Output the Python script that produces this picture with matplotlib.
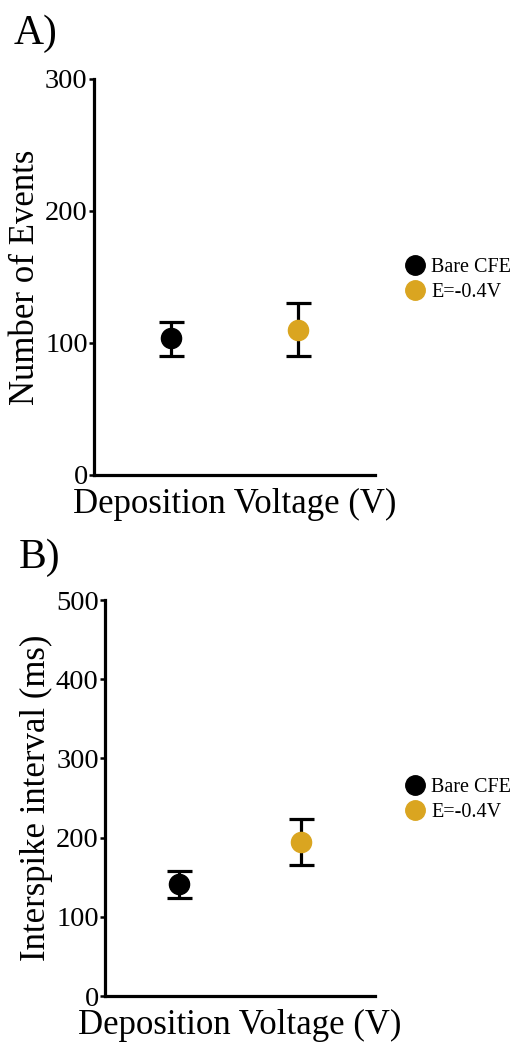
import matplotlib
matplotlib.use("Agg")
import matplotlib.pyplot as plt
from matplotlib.lines import Line2D

plt.rcParams['font.family'] = ['Liberation Serif', 'DejaVu Serif']

# Data
groups = ["Bare CFE", "E=-0.4V"]
colors = ["#000000", "#DAA520"]
events_mean = [104, 110]
events_lo = [90, 90]
events_hi = [116, 130]
isi_mean = [141, 194]
isi_lo = [124, 165]
isi_hi = [158, 224]

fig = plt.figure(figsize=(5.14, 10.45), dpi=100)
W, H = 514, 1045

def make_ax(left, right, top, bottom):
    return fig.add_axes([left / W, 1 - bottom / H, (right - left) / W, (bottom - top) / H])

axA = make_ax(94, 375, 79, 475)
axB = make_ax(105, 375, 600, 996)

def draw(ax, means, lo, hi, ylim, ticks, ylabel):
    for i, (m, l, h, c) in enumerate(zip(means, lo, hi, colors)):
        x = i + 1
        ax.errorbar([x], [m], yerr=[[m - l], [h - m]], fmt='none', ecolor='black',
                    elinewidth=2.3, capsize=9, capthick=2.3, zorder=2)
        ax.plot([x], [m], 'o', color=c, markersize=14.5, zorder=3)
    ax.set_xlim(0.4, 2.6)
    ax.set_ylim(*ylim)
    ax.set_yticks(ticks)
    ax.set_yticklabels([str(t) for t in ticks], fontsize=20.5)
    ax.set_xticks([])
    for s in ['top', 'right']:
        ax.spines[s].set_visible(False)
    for s in ['left', 'bottom']:
        ax.spines[s].set_linewidth(2.3)
    ax.tick_params(axis='y', length=3.5, width=1.8, pad=1)
    ax.set_ylabel(ylabel, fontsize=25, labelpad=2)
    ax.set_xlabel("Deposition Voltage (V)", fontsize=25, labelpad=9)

draw(axA, events_mean, events_lo, events_hi, (0, 300), [0, 100, 200, 300], "Number of Events")
draw(axB, isi_mean, isi_lo, isi_hi, (0, 500), [0, 100, 200, 300, 400, 500], "Interspike interval (ms)")

handles = [Line2D([], [], marker='o', linestyle='none', color=c, markersize=14) for c in colors]
for ycen in (280 / H, 800 / H):
    fig.legend(handles, groups, loc='center left', bbox_to_anchor=(395 / W, 1 - ycen),
               frameon=False, fontsize=14.5, handlelength=1.0, handletextpad=0.3,
               labelspacing=0.3, borderpad=0)

fig.text(14 / W, 1 - 44 / H, "A)", fontsize=30, va='baseline', ha='left')
fig.text(19 / W, 1 - 568 / H, "B)", fontsize=30, va='baseline', ha='left')

fig.savefig("out.png", dpi=100)
